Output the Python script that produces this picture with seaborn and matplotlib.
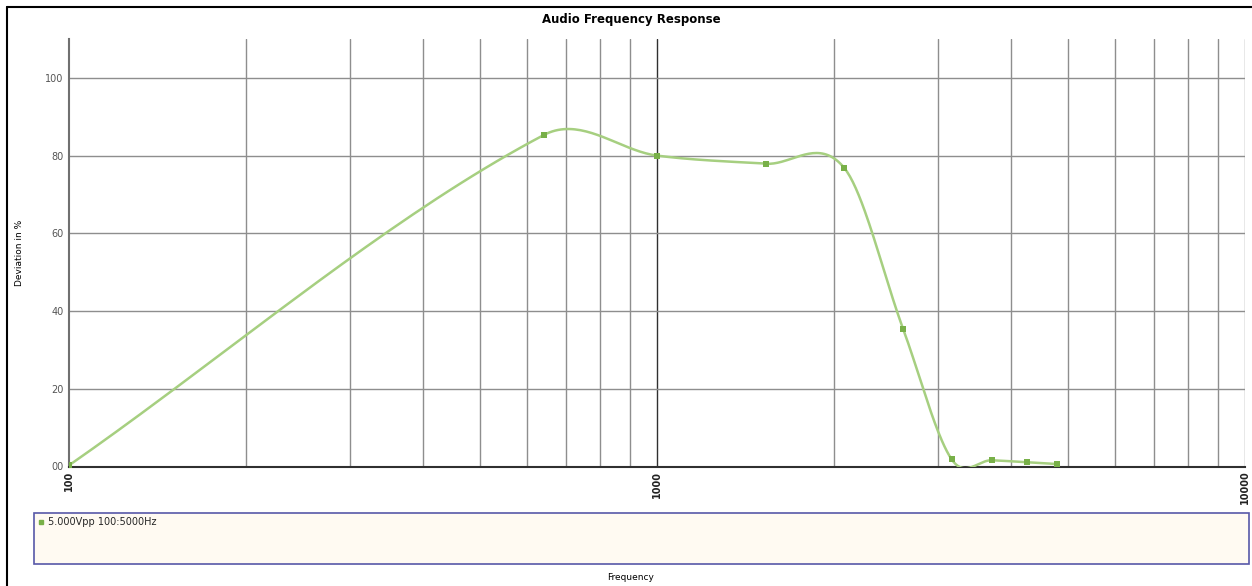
import numpy as np
import pandas as pd
import matplotlib
matplotlib.use("Agg")
import matplotlib.pyplot as plt
from matplotlib.lines import Line2D
from matplotlib.patches import Rectangle
from matplotlib.ticker import FixedLocator, NullFormatter
import seaborn as sns

# ---- data ----
frequency_hz = [100, 642, 1000, 1532, 2080, 2623, 3170, 3709, 4253, 4784]
deviation_pct = [0.3, 85.3, 80.0, 77.9, 76.9, 35.3, 1.85, 1.6, 1.1, 0.64]
series_name = "5.000Vpp 100:5000Hz"
title = "Audio Frequency Response"
x_label = "Frequency"
y_label = "Deviation in %"
y_ticks = [0, 20, 40, 60, 80, 100]
y_tick_labels = ["00", "20", "40", "60", "80", "100"]
x_major = [100, 1000, 10000]
x_major_labels = ["100", "1000", "10000"]

LINE_C = "#a6cf80"
MARK_C = "#78b048"

sns.set_theme(style="white")
plt.rcParams["font.family"] = ["DejaVu Sans"]

W, H = 1252, 586
fig = plt.figure(figsize=(W / 100, H / 100), dpi=100)
fig.patch.set_facecolor("white")

def fx(px):
    return px / W

def fy(py):
    return 1 - py / H

ax = fig.add_axes([fx(69), fy(466.5), fx(1245) - fx(69), fy(39) - fy(466.5)])
ax.set_facecolor("white")

# smooth Catmull-Rom style curve through the data, drawn in log-x space
def smooth_curve(xs, ys, n=40):
    xs = np.asarray(xs, float)
    ys = np.asarray(ys, float)
    k = len(xs)
    m = np.zeros(k)
    m[0] = (ys[1] - ys[0]) / (xs[1] - xs[0])
    m[-1] = (ys[-1] - ys[-2]) / (xs[-1] - xs[-2])
    for i in range(1, k - 1):
        m[i] = (ys[i + 1] - ys[i - 1]) / (xs[i + 1] - xs[i - 1])
    outx, outy = [], []
    for i in range(k - 1):
        h = xs[i + 1] - xs[i]
        t = np.linspace(0, 1, n, endpoint=(i == k - 2))
        h00 = 2 * t ** 3 - 3 * t ** 2 + 1
        h10 = t ** 3 - 2 * t ** 2 + t
        h01 = -2 * t ** 3 + 3 * t ** 2
        h11 = t ** 3 - t ** 2
        val = h00 * ys[i] + h10 * h * m[i] + h01 * ys[i + 1] + h11 * h * m[i + 1]
        outx.extend(xs[i] + t * h)
        outy.extend(val)
    return np.array(outx), np.array(outy)

lx, ly = smooth_curve(np.log10(frequency_hz), deviation_pct)
curve = pd.DataFrame({"Frequency": 10 ** lx, "Deviation": ly})
points = pd.DataFrame({"Frequency": frequency_hz, "Deviation": deviation_pct})

ax.set_xscale("log")
ax.set_xlim(100, 10000)
ax.set_ylim(0, 110)

# grid
minor = [m * d for d in (100, 1000) for m in range(2, 10)]
for v in minor:
    ax.axvline(v, color="#8e8e8e", lw=1.0, zorder=1)
ax.axvline(1000, color="#303030", lw=1.0, zorder=1)
ax.axvline(10000, color="#8e8e8e", lw=1.0, zorder=1)
for v in y_ticks[1:]:
    ax.axhline(v, color="#8e8e8e", lw=1.0, zorder=1)

sns.lineplot(data=curve, x="Frequency", y="Deviation", ax=ax, color=LINE_C,
             lw=1.8, sort=False, zorder=3, legend=False)
sns.scatterplot(data=points, x="Frequency", y="Deviation", ax=ax, color=MARK_C,
                marker="s", s=16, linewidth=0, zorder=4, legend=False)

ax.xaxis.set_major_locator(FixedLocator(x_major))
ax.xaxis.set_minor_locator(FixedLocator([]))
ax.xaxis.set_minor_formatter(NullFormatter())
ax.set_xticklabels(x_major_labels, rotation=90, fontsize=7, fontweight="bold",
                   color="#222222", va="top")
ax.set_yticks(y_ticks)
ax.set_yticklabels(y_tick_labels, fontsize=7, color="#555555")
ax.tick_params(axis="both", length=0, pad=3)
ax.tick_params(axis="y", pad=4)
ax.set_xlabel("")
ax.set_ylabel("")

for s in ("top", "right"):
    ax.spines[s].set_visible(False)
ax.spines["left"].set_color("#707070")
ax.spines["left"].set_linewidth(1.5)
ax.spines["bottom"].set_color("#303030")
ax.spines["bottom"].set_linewidth(1.5)

# texts
fig.text(fx(631), fy(20), title, ha="center", va="center", fontsize=8.5,
         fontweight="bold", color="black")
fig.text(fx(20), fy(253), y_label, ha="center", va="center", rotation=90,
         fontsize=6.5, color="black")
fig.text(fx(631), fy(577), x_label, ha="center", va="center", fontsize=6.5,
         color="black")

# outer border (top and left visible)
fig.add_artist(Line2D([fx(7), fx(7)], [fy(7), 0], transform=fig.transFigure,
                      color="black", lw=1.5))
fig.add_artist(Line2D([fx(7), 1], [fy(7), fy(7)], transform=fig.transFigure,
                      color="black", lw=1.5))

# legend box
fig.add_artist(Rectangle((fx(33.5), fy(564)), fx(1249) - fx(33.5), fy(513) - fy(564),
                         transform=fig.transFigure, facecolor="#fffaf2",
                         edgecolor="#5858a8", lw=1.2))
handle = Line2D([], [], marker="s", color=MARK_C, linestyle="none", markersize=3.5)
fig.legend([handle], [series_name], loc="upper left",
           bbox_to_anchor=(fx(36), fy(515)), frameon=False, fontsize=7,
           handlelength=0.6, handletextpad=0.4, borderpad=0.2, borderaxespad=0)

fig.savefig("out.png", dpi=100)
